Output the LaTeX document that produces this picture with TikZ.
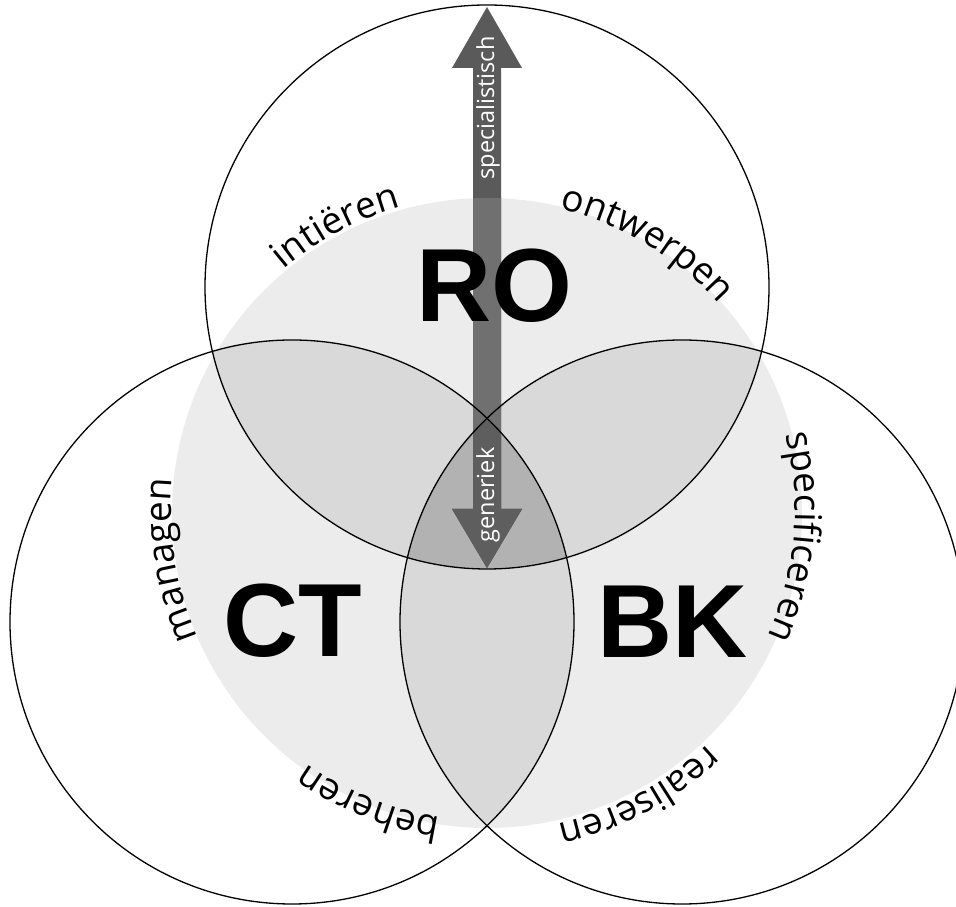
\documentclass[tikz,border=0pt]{standalone}
\usepackage{fontspec}
\newfontfamily\labfnt{Open Sans}
\newfontfamily\bigfnt{Liberation Sans}
\usetikzlibrary{decorations.text}
\definecolor{discgray}{HTML}{ECECEC}
\definecolor{lensgray}{HTML}{D9D9D9}
\definecolor{coregray}{HTML}{B2B2B2}
\definecolor{arrowdark}{HTML}{5A5A5A}
\definecolor{arrowlight}{HTML}{707070}
\definecolor{arrowcore}{HTML}{5E5E5E}
\begin{document}
\begin{tikzpicture}[x=1pt,y=1pt,
  ring/.style={draw=black,line width=1.3pt},
  biglabel/.style={font=\bigfnt\bfseries\fontsize{104}{104}\selectfont, inner sep=0pt},
  arrowtext/.style={font=\labfnt\fontsize{23.5}{23.5}\selectfont, text=white, rotate=90, inner sep=0pt},
  arclabel/.style={decorate, decoration={text along path, text align=center, text={|\labfnt\fontsize{37}{37}\selectfont|#1}}}
]
\useasboundingbox (0,0) rectangle (956,907);
\clip (0,0) rectangle (956,907);
\coordinate (T) at (487,620);
\coordinate (L) at (292,285);
\coordinate (R) at (682,285);
\coordinate (D) at (487,394);
\coordinate (TC) at (487,397);
\def\rr{282}
\def\circT{(T) circle[radius=\rr]}
\def\circL{(L) circle[radius=\rr]}
\def\circR{(R) circle[radius=\rr]}
\def\disc{(D) circle[radius=315]}
\def\arrowshape{(473,839) -- (452,839) -- (487,900) -- (522,839) -- (501,839) -- (501,398) -- (522,398) -- (487,339) -- (452,398) -- (473,398) -- cycle}
% background disc
\fill[discgray] \disc;
% pairwise overlaps
\begin{scope}\clip \circT; \fill[lensgray] \circL; \fill[lensgray] \circR; \end{scope}
\begin{scope}\clip \circL; \fill[lensgray] \circR; \end{scope}
% triple overlap
\begin{scope}\clip \circT; \clip \circL; \fill[coregray] \circR; \end{scope}
% double arrow
\fill[arrowdark] \arrowshape;
\begin{scope}\clip \arrowshape; \clip \disc; \fill[arrowlight] (0,0) rectangle (956,907); \end{scope}
\begin{scope}\clip \arrowshape; \clip \circT; \clip \circL; \clip \circR; \fill[arrowcore] (0,0) rectangle (956,907); \end{scope}
% circle outlines
\draw[ring] \circT;
\draw[ring] \circL;
\draw[ring] \circR;
% big labels
\node[biglabel] (ro) at (494,621) {RO};
\node[biglabel] (ct) at (293,286) {CT};
\node[biglabel] (bk) at (673,285) {BK};
% arrow labels
\node[arrowtext] (spec) at (488,799) {specialistisch};
\node[arrowtext] (gen) at (488,412) {generiek};
% arc labels
\path[arclabel=intiëren] ([shift={(148:315)}]TC) arc[start angle=148, end angle=88, radius=315];
\path[arclabel=ontwerpen] ([shift={(89:310)}]TC) arc[start angle=89, end angle=29, radius=310];
\path[arclabel=managen] ([shift={(219:316)}]TC) arc[start angle=219, end angle=159, radius=316];
\path[arclabel=specificeren] ([shift={(27:308)}]TC) arc[start angle=27, end angle=-37, radius=308];
\path[arclabel=beheren] ([shift={(278:311)}]TC) arc[start angle=278, end angle=218, radius=311];
\path[arclabel=realiseren] ([shift={(328:322)}]TC) arc[start angle=328, end angle=268, radius=322];
\end{tikzpicture}
\end{document}
